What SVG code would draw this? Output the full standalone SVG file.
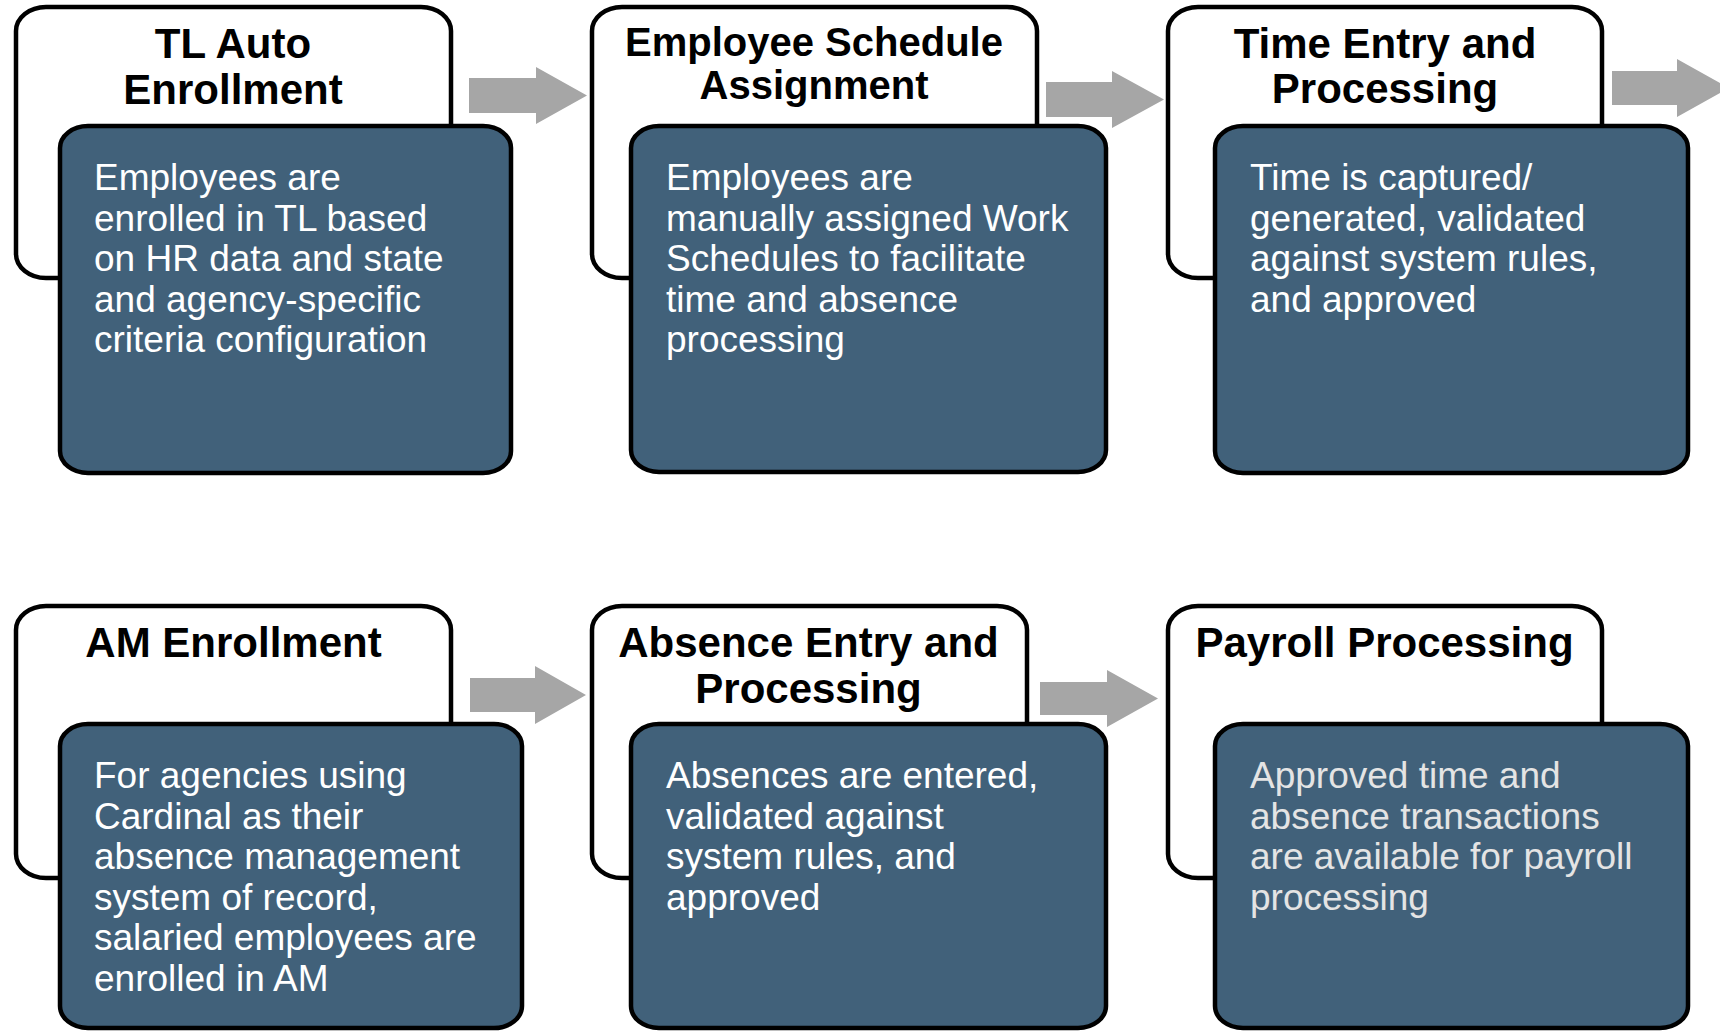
<svg xmlns="http://www.w3.org/2000/svg" width="1720" height="1031" viewBox="0 0 1720 1031">
<style>
.hdr{fill:#ffffff;stroke:#000000;stroke-width:4.5}
.card{fill:#41617A;stroke:#000000;stroke-width:4.5}
.ttl{font-family:"Liberation Sans",Arial,sans-serif;font-weight:bold;font-size:42px;fill:#000000;text-anchor:middle}
.body{font-family:"Liberation Sans",Arial,sans-serif;font-size:37px;fill:#ffffff}
.arrow{fill:#A6A6A6}
</style>
<rect width="1720" height="1031" fill="#ffffff"/>
<g id="connectors">
<polygon class="arrow" points="469,78 536,78 536,67 587,95.5 536,124 536,113 469,113"/>
<polygon class="arrow" points="1046,82 1112,82 1112,71 1164,99.5 1112,128 1112,117 1046,117"/>
<polygon class="arrow" points="1612,71 1677,71 1677,59 1729,88 1677,117 1677,105 1612,105"/>
<polygon class="arrow" points="470,678 535,678 535,666 586,695 535,724 535,712 470,712"/>
<polygon class="arrow" points="1040,682 1107,682 1107,670 1158,698.5 1107,727 1107,715 1040,715"/>
</g>
<g id="node-tl-auto-enrollment">
<rect class="hdr" x="16" y="7" width="435" height="271" rx="30" ry="24"/>
<text class="ttl" x="233" y="58">TL Auto</text>
<text class="ttl" x="233" y="104">Enrollment</text>
<rect class="card" x="60" y="126" width="451" height="347" rx="28" ry="22"/>
<text class="body" x="94" y="190">Employees are</text>
<text class="body" x="94" y="230.6">enrolled in TL based</text>
<text class="body" x="94" y="271.2">on HR data and state</text>
<text class="body" x="94" y="311.8">and agency-specific</text>
<text class="body" x="94" y="352.4">criteria configuration</text>
</g>
<g id="node-employee-schedule-assignment">
<rect class="hdr" x="592" y="7" width="445" height="271" rx="30" ry="24"/>
<text class="ttl" x="814" y="56" style="font-size:40px">Employee Schedule</text>
<text class="ttl" x="814" y="99" style="font-size:40px">Assignment</text>
<rect class="card" x="631" y="126" width="475" height="346" rx="28" ry="22"/>
<text class="body" x="666" y="190">Employees are</text>
<text class="body" x="666" y="230.6">manually assigned Work</text>
<text class="body" x="666" y="271.2">Schedules to facilitate</text>
<text class="body" x="666" y="311.8">time and absence</text>
<text class="body" x="666" y="352.4">processing</text>
</g>
<g id="node-time-entry-processing">
<rect class="hdr" x="1168" y="7" width="434" height="271" rx="30" ry="24"/>
<text class="ttl" x="1385" y="58">Time Entry and</text>
<text class="ttl" x="1385" y="103">Processing</text>
<rect class="card" x="1215" y="126" width="473" height="347" rx="28" ry="22"/>
<text class="body" x="1250" y="190">Time is captured/</text>
<text class="body" x="1250" y="230.6">generated, validated</text>
<text class="body" x="1250" y="271.2">against system rules,</text>
<text class="body" x="1250" y="311.8">and approved</text>
</g>
<g id="node-am-enrollment">
<rect class="hdr" x="16" y="606" width="435" height="272" rx="30" ry="24"/>
<text class="ttl" x="233.5" y="657">AM Enrollment</text>
<rect class="card" x="60" y="724" width="462" height="304" rx="28" ry="22"/>
<text class="body" x="94" y="788">For agencies using</text>
<text class="body" x="94" y="828.6">Cardinal as their</text>
<text class="body" x="94" y="869.2">absence management</text>
<text class="body" x="94" y="909.8">system of record,</text>
<text class="body" x="94" y="950.4">salaried employees are</text>
<text class="body" x="94" y="991">enrolled in AM</text>
</g>
<g id="node-absence-entry-processing">
<rect class="hdr" x="592" y="606" width="435" height="272" rx="30" ry="24"/>
<text class="ttl" x="808.5" y="657">Absence Entry and</text>
<text class="ttl" x="808.5" y="703">Processing</text>
<rect class="card" x="631" y="724" width="475" height="304" rx="28" ry="22"/>
<text class="body" x="666" y="788">Absences are entered,</text>
<text class="body" x="666" y="828.6">validated against</text>
<text class="body" x="666" y="869.2">system rules, and</text>
<text class="body" x="666" y="909.8">approved</text>
</g>
<g id="node-payroll-processing">
<rect class="hdr" x="1168" y="606" width="434" height="272" rx="30" ry="24"/>
<text class="ttl" x="1384.5" y="657">Payroll Processing</text>
<rect class="card" x="1215" y="724" width="473" height="304" rx="28" ry="22"/>
<text class="body" x="1250" y="788" style="fill:#E4E4E4">Approved time and</text>
<text class="body" x="1250" y="828.6" style="fill:#E4E4E4">absence transactions</text>
<text class="body" x="1250" y="869.2" style="fill:#E4E4E4">are available for payroll</text>
<text class="body" x="1250" y="909.8" style="fill:#E4E4E4">processing</text>
</g>
</svg>
